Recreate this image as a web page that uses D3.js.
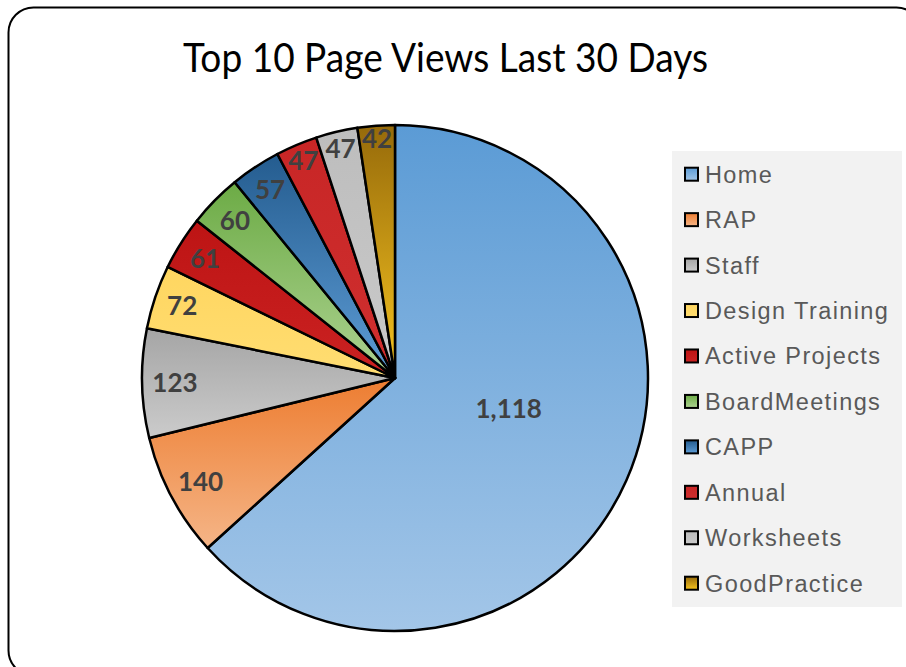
<!DOCTYPE html>
<html>
<head>
<meta charset="utf-8">
<script src="https://cdn.jsdelivr.net/npm/d3@7"></script>
<style>
  html, body { margin: 0; padding: 0; background: #fff; }
  svg { display: block; }
</style>
</head>
<body>
<div id="chart"></div>
<script>
var pages = ['Home', 'RAP', 'Staff', 'Design Training', 'Active Projects',
  'BoardMeetings', 'CAPP', 'Annual', 'Worksheets', 'GoodPractice'];
var views = [1118, 140, 123, 72, 61, 60, 57, 47, 47, 42];
// gradient stops per slice: dark at top, light at bottom
var topColors = ['#5b9bd5', '#ed7d31', '#a5a5a5', '#ffd660', '#bd1414',
  '#6cab45', '#245c8f', '#c82626', '#bdbdbd', '#966a0a'];
var bottomColors = ['#a3c6e8', '#f5b587', '#cbcbcb', '#ffdd72', '#cb2222',
  '#aed392', '#5e9dd6', '#cf2f2f', '#cacaca', '#f6c420'];
var titleText = 'Top 10 Page Views Last 30 Days';

var W = 906, H = 667;
var cx = 395, cy = 378, r = 253;

var svg = d3.select('#chart').append('svg')
  .attr('width', W)
  .attr('height', H);

var defs = svg.append('defs');

pages.forEach(function(p, i) {
  var grad = defs.append('linearGradient')
    .attr('id', 'grad' + i)
    .attr('x1', 0).attr('y1', 0)
    .attr('x2', 0).attr('y2', 1);
  grad.append('stop').attr('offset', '0%').attr('stop-color', topColors[i]);
  grad.append('stop').attr('offset', '100%').attr('stop-color', bottomColors[i]);
});

// chart frame
svg.append('rect')
  .attr('x', 8.5)
  .attr('y', 7.5)
  .attr('width', 913)
  .attr('height', 668)
  .attr('rx', 25)
  .attr('fill', '#fff')
  .attr('stroke', '#000')
  .attr('stroke-width', 2);

svg.append('text')
  .attr('x', 445.5)
  .attr('y', 72)
  .attr('text-anchor', 'middle')
  .attr('textLength', 525)
  .attr('lengthAdjust', 'spacingAndGlyphs')
  .style('font-family', 'Lato, "Open Sans", sans-serif')
  .style('font-size', '40px')
  .style('fill', '#000')
  .text(titleText);

///////////////////////////////////////

var pie = d3.pie().sort(null).value((d) => d);
var arcs = pie(views);

var arc = d3.arc().innerRadius(0).outerRadius(r);

var g = svg.append('g')
  .attr('transform', 'translate(' + cx + ',' + cy + ')');

g.selectAll('.slice')
  .data(arcs)
  .enter().append('path')
  .attr('class', 'slice')
  .attr('d', arc)
  .attr('fill', (d, i) => 'url(#grad' + i + ')')
  .attr('stroke', '#000')
  .attr('stroke-width', 2.5)
  .attr('stroke-linejoin', 'round');

var fmt = d3.format(',');

// excel-ish "best fit": big slice label sits mid-way, small ones near the rim
function labelPos(d) {
  var a = (d.startAngle + d.endAngle) / 2;
  var span = (d.endAngle - d.startAngle) * 180 / Math.PI;
  var k;
  if (span > 90) {
    k = 0.465;
    a -= 0.157;
  } else if (span > 20) k = 0.87;
  else if (span >= 12) k = 0.888;
  else k = 0.888 + (12 - span) * 0.018;
  return [Math.sin(a) * r * k, -Math.cos(a) * r * k];
}

g.selectAll('.lbl')
  .data(arcs)
  .enter().append('text')
  .attr('class', 'lbl')
  .attr('transform', (d) => 'translate(' + labelPos(d) + ')')
  .attr('text-anchor', 'middle')
  .attr('dy', '0.36em')
  .style('font-family', 'Lato, "Open Sans", sans-serif')
  .style('font-weight', 'bold')
  .style('font-size', '26px')
  .style('fill', '#404040')
  .text((d) => fmt(d.data));

///////////////////////////////////////

var legend = svg.append('g');

legend.append('rect')
  .attr('x', 672)
  .attr('y', 151)
  .attr('width', 230)
  .attr('height', 456)
  .attr('fill', '#f2f2f2');

var ly = d3.scalePoint()
  .domain(pages)
  .range([182.7, 591.7]);

var items = legend.selectAll('.item')
  .data(pages)
  .enter().append('g')
  .attr('class', 'item')
  .attr('transform', (d) => 'translate(0,' + ly(d) + ')');

items.append('rect')
  .attr('x', 685)
  .attr('y', -15)
  .attr('width', 13)
  .attr('height', 13)
  .attr('fill', (d, i) => 'url(#grad' + i + ')')
  .attr('stroke', '#000')
  .attr('stroke-width', 2);

items.append('text')
  .attr('x', 705)
  .attr('y', 0)
  .style('font-family', '"Liberation Sans", Arial, sans-serif')
  .style('font-size', '23.5px')
  .style('letter-spacing', '1.4px')
  .style('fill', '#595959')
  .text((d) => d);
</script>
</body>
</html>
